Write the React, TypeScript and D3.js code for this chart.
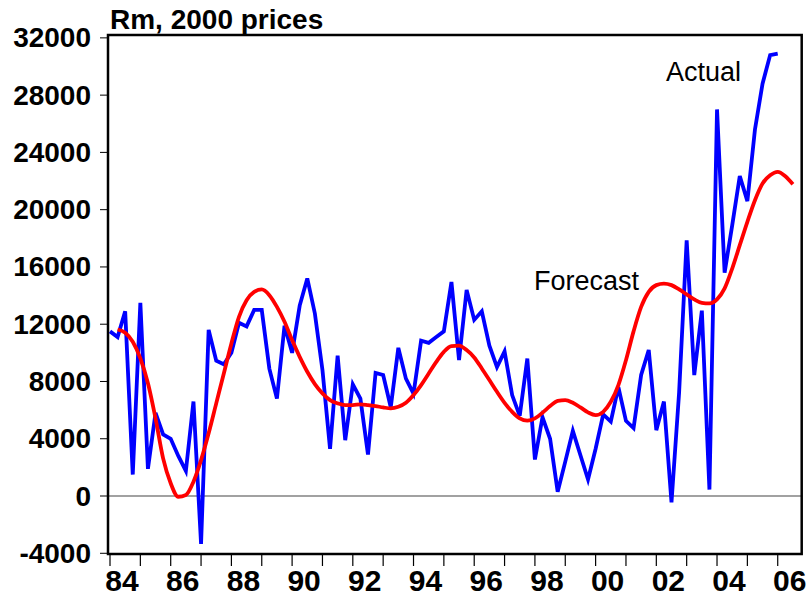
import React from "react";
import * as d3 from "d3";

// quarterly data, Rm at 2000 prices
const actualStart = 1984; // 1984Q1
const actual = [
  11500, 11100, 12900, 1500,
  13500, 1900, 5800, 4300,
  4000, 2800, 1750, 6600,
  -3350, 11600, 9450, 9200,
  10000, 12100, 11850, 13000,
  13000, 8900, 6800, 11900,
  10000, 13300, 15200, 12750,
  8800, 3300, 9800, 3900,
  7800, 6800, 2900, 8600,
  8450, 6200, 10350, 8200,
  7150, 10850, 10700, 11100,
  11500, 14950, 9500, 14400,
  12300, 12900, 10500, 9000,
  10100, 7050, 5600, 9600,
  2550, 5500, 4000, 300,
  2400, 4550, 2850, 1150,
  3300, 5700, 5200, 7600,
  5250, 4750, 8450, 10200,
  4600, 6600, -450, 7200,
  17850, 8450, 12950, 450,
  27000, 15600, 18900, 22350,
  20600, 25600, 28800, 30800,
  30900,
];

const forecastStart = 1984.25; // 1984Q2
const forecast = [
  11630, 11400, 10770,
  9610, 7870, 5420, 2630,
  890, -50, 70, 1000,
  2510, 4380, 6470, 8560,
  10660, 12520, 13680, 14260,
  14430, 14030, 13210, 12170,
  10890, 9720, 8680, 7820,
  7170, 6700, 6470, 6350,
  6350, 6400, 6350, 6280,
  6190, 6120, 6230, 6510,
  7050, 7750, 8560, 9370,
  10070, 10470, 10500, 10190,
  9680, 8910, 8100, 7280,
  6510, 5880, 5420, 5260,
  5420, 5820, 6280, 6650,
  6700, 6510, 6190, 5840,
  5650, 5880, 6580, 7750,
  9490, 11500, 13210, 14260,
  14730, 14840, 14730, 14430,
  14080, 13730, 13490, 13450,
  13730, 14500, 15890, 17520,
  19150, 20660, 21830, 22400,
  22640, 22340, 21780,
];

const yTicks = [-4000, 0, 4000, 8000, 12000, 16000, 20000, 24000, 28000, 32000];
const yearTicks = d3.range(1984, 2007);
const yearLabels = ["84", "86", "88", "90", "92", "94", "96", "98", "00", "02", "04", "06"];

const W = 808;
const H = 601;
const left = 108;
const right = 801.7;
const top = 35;
const bottom = 554;

export default function App() {
  const x = d3.scaleLinear().domain([1983.934, 2006.79]).range([left, right]);
  const y = d3.scaleLinear().domain([-4050, 32200]).range([bottom, top]);

  const line = d3
    .line<number>()
    .x((_, i) => x(actualStart + i / 4))
    .y((d) => y(d));

  const smooth = d3
    .line<number>()
    .x((_, i) => x(forecastStart + i / 4))
    .y((d) => y(d))
    .curve(d3.curveMonotoneX);

  const labelFont = "Arial, 'Liberation Sans', sans-serif";

  return (
    <div style={{ position: "fixed", left: 0, top: 0 }}>
      <svg width={W} height={H} style={{ display: "block", background: "#fff" }}>
        <text x={110} y={29} fontFamily={labelFont} fontWeight="bold" fontSize={28}>
          Rm, 2000 prices
        </text>

        {/* zero line */}
        <line x1={left} x2={right} y1={y(0)} y2={y(0)} stroke="#444" strokeWidth={1.2} />

        <path d={line(actual) ?? ""} fill="none" stroke="#0000ff" strokeWidth={3.8} strokeLinejoin="miter" />
        <path d={smooth(forecast) ?? ""} fill="none" stroke="#ff0000" strokeWidth={3.8} />

        {/* frame */}
        <rect x={left} y={top} width={right - left} height={bottom - top} fill="none" stroke="#000" strokeWidth={2.5} />

        {yTicks.map((t) => (
          <g key={t}>
            <line x1={left - 8} x2={left} y1={y(t)} y2={y(t)} stroke="#000" strokeWidth={1} />
            <text
              x={91}
              y={y(t)}
              textAnchor="end"
              dominantBaseline="central"
              fontFamily={labelFont}
              fontWeight="bold"
              fontSize={28}
            >
              {t}
            </text>
          </g>
        ))}

        {yearTicks.map((yr) => (
          <line key={yr} x1={x(yr)} x2={x(yr)} y1={bottom} y2={bottom + 12} stroke="#000" strokeWidth={1.2} />
        ))}
        {yearLabels.map((lab, i) => (
          <text
            key={lab}
            x={x(1984 + i * 2) + 12}
            y={591}
            textAnchor="middle"
            fontFamily={labelFont}
            fontWeight="bold"
            fontSize={30}
          >
            {lab}
          </text>
        ))}

        <text x={666} y={81} fontFamily={labelFont} fontSize={27}>
          Actual
        </text>
        <text x={534} y={290} fontFamily={labelFont} fontSize={27}>
          Forecast
        </text>
      </svg>
    </div>
  );
}
